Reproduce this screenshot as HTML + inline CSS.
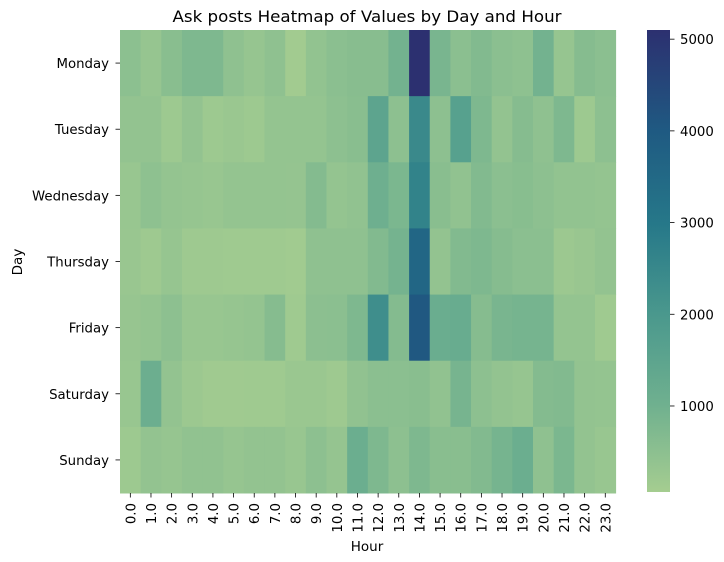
<!DOCTYPE html>
<html><head><meta charset="utf-8"><style>
html,body{margin:0;padding:0;background:#fff;}
svg{display:block;font-family:"DejaVu Sans","Liberation Sans",sans-serif;}
</style></head><body>
<svg id="chart" width="724" height="562">
<defs><linearGradient id="cg" x1="0" y1="1" x2="0" y2="0">
<stop offset="0" stop-color="#a5cd90"/><stop offset="0.19" stop-color="#6fb08f"/>
<stop offset="0.385" stop-color="#4a988d"/><stop offset="0.58" stop-color="#267889"/>
<stop offset="0.78" stop-color="#1f5a82"/><stop offset="1" stop-color="#2c3070"/>
</linearGradient></defs>
<text x="367" y="22" text-anchor="middle" font-size="16" textLength="389" lengthAdjust="spacingAndGlyphs">Ask posts Heatmap of Values by Day and Hour</text>
<text x="367" y="551" text-anchor="middle" font-size="13.5">Hour</text>
<text x="22" y="262" text-anchor="middle" font-size="13.5" transform="rotate(-90 22 262)">Day</text>
<g id="cells"></g>
<g id="xt"></g>
<g id="yt"></g>
<rect x="647" y="30" width="23" height="462" fill="url(#cg)"/>
<g id="ct"></g>
</svg>
<script>
const days = ["Monday","Tuesday","Wednesday","Thursday","Friday","Saturday","Sunday"];
const hours = ["0.0","1.0","2.0","3.0","4.0","5.0","6.0","7.0","8.0","9.0","10.0","11.0","12.0","13.0","14.0","15.0","16.0","17.0","18.0","19.0","20.0","21.0","22.0","23.0"];
const monday = [500,320,550,750,750,450,320,450,120,400,520,580,580,950,5100,850,520,680,530,470,950,330,620,520];
const tuesday = [380,380,200,380,200,260,200,370,370,370,480,560,1500,480,2450,480,1650,750,380,620,450,750,200,480];
const wednesday = [300,470,370,330,290,360,360,360,350,640,370,420,1050,800,2650,550,410,680,520,570,490,390,390,370];
const thursday = [280,190,320,190,190,160,160,160,140,450,450,450,680,920,3600,380,680,750,610,520,520,230,280,380];
const friday = [310,370,480,290,290,330,370,610,170,510,530,760,2300,650,4050,1150,1200,610,850,900,900,370,370,160];
const saturday = [290,1100,380,230,150,150,160,160,250,250,180,420,530,530,560,420,880,480,380,320,650,680,380,360];
const sunday = [200,380,320,420,420,330,380,380,290,480,350,1120,760,480,760,550,550,680,900,1120,450,800,380,290];
const cbTicks = [1000,2000,3000,4000,5000];
const rows = [monday,tuesday,wednesday,thursday,friday,saturday,sunday];
const vmin = 62, vmax = 5100;
const X0=120, X1=615.6, Y0=30, Y1=493;
const cw=(X1-X0)/hours.length, rh=(Y1-Y0)/days.length;
const xPos = i => X0 + i*cw;
const yPos = j => Y0 + j*rh;
const stops=[[0,[165,205,144]],[0.19,[111,176,143]],[0.385,[74,152,141]],[0.58,[38,120,137]],[0.78,[31,90,130]],[1,[44,48,112]]];
function color(v){
  let t=Math.max(0,Math.min(1,(v-vmin)/(vmax-vmin)));
  for(let k=1;k<stops.length;k++){
    if(t<=stops[k][0]){
      const a=stops[k-1],b=stops[k],f=(t-a[0])/(b[0]-a[0]);
      const c=a[1].map((x,i)=>Math.round(x+(b[1][i]-x)*f));
      return `rgb(${c[0]},${c[1]},${c[2]})`;
    }
  }
  return "rgb(44,48,112)";
}
const NS="http://www.w3.org/2000/svg";
function mk(tag,attrs,parent){const e=document.createElementNS(NS,tag);for(const k in attrs)e.setAttribute(k,attrs[k]);parent.appendChild(e);return e;}
const cells=document.getElementById('cells');
rows.forEach((r,j)=>r.forEach((v,i)=>{
  const e=mk('rect',{x:xPos(i),y:yPos(j),width:cw+0.5,height:rh+0.5,fill:color(v)},cells);
  
  
}));
const xt=document.getElementById('xt');
hours.forEach((h,i)=>{
  const cx=xPos(i)+cw/2;
  mk('line',{x1:cx,y1:Y1,x2:cx,y2:Y1+4.5,stroke:'#000','stroke-width':0.8},xt);
  const t=mk('text',{x:cx+5,y:Y1+10,'font-size':13.3,'text-anchor':'end',transform:`rotate(-90 ${cx+5} ${Y1+10})`},xt);
  t.textContent=h;
  
  
});
const yt=document.getElementById('yt');
days.forEach((d,j)=>{
  const cy=yPos(j)+rh/2;
  mk('line',{x1:X0-4.5,y1:cy,x2:X0,y2:cy,stroke:'#000','stroke-width':0.8},yt);
  const t=mk('text',{x:X0-11,y:cy+5,'font-size':13.3,'text-anchor':'end'},yt);
  t.textContent=d;
  
  
});
const ct=document.getElementById('ct');
cbTicks.forEach(v=>{
  const y=492-(v-vmin)/(vmax-vmin)*462;
  mk('line',{x1:670,y1:y,x2:674.5,y2:y,stroke:'#000','stroke-width':0.8},ct);
  const t=mk('text',{x:680,y:y+5,'font-size':13.3},ct);
  t.textContent=v;
  
  
});
</script>
</body></html>
